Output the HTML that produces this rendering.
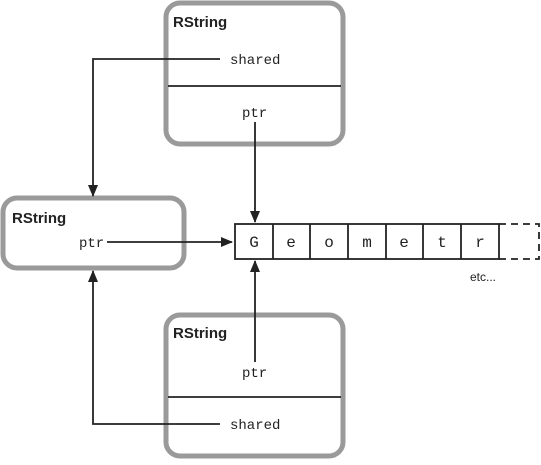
<!DOCTYPE html>
<html><head><style>body{margin:0;background:#fff}</style></head><body>
<svg width="541" height="460" xmlns="http://www.w3.org/2000/svg" font-family="Liberation Mono, monospace" font-size="14">
<defs><marker id="a" markerWidth="12" markerHeight="10" refX="11" refY="5" orient="auto" markerUnits="userSpaceOnUse"><path d="M0,0L12,5L0,10z" fill="#222"/></marker></defs>
<g fill="#fff" stroke="#9a9a9a" stroke-width="5">
<rect x="166" y="3" width="177" height="141" rx="14"/>
<rect x="3" y="198" width="181" height="70" rx="14"/>
<rect x="166" y="315" width="177" height="141" rx="14"/>
</g>
<g stroke="#222" stroke-width="1.8">
<line x1="168" y1="86" x2="341" y2="86"/>
<line x1="168" y1="397" x2="341" y2="397"/>
</g>
<g font-family="Liberation Sans, sans-serif" font-weight="bold" font-size="15" fill="#222">
<text x="173" y="27">RString</text><text x="12" y="223">RString</text><text x="173" y="338">RString</text>
</g>
<g fill="#222">
<text x="230" y="64">shared</text><text x="242" y="117">ptr</text>
<text x="79" y="247">ptr</text>
<text x="242" y="377">ptr</text><text x="230" y="429">shared</text>
</g>
<g fill="none" stroke="#222" stroke-width="1.8">
<rect x="235" y="224" width="264" height="35"/>
<path d="M273,224V259M310,224V259M348,224V259M386,224V259M423,224V259M461,224V259"/>
<path d="M499,224H539V259H499" stroke-dasharray="7,5"/>
<path d="M220,59H93V196" marker-end="url(#a)"/>
<path d="M107,242H232" marker-end="url(#a)"/>
<path d="M255,122V222" marker-end="url(#a)"/>
<path d="M255,362V261" marker-end="url(#a)"/>
<path d="M220,424H93V271" marker-end="url(#a)"/>
</g>
<g fill="#222" text-anchor="middle" font-size="16">
<text x="254" y="247">G</text><text x="291" y="247">e</text><text x="329" y="247">o</text><text x="367" y="247">m</text><text x="404" y="247">e</text><text x="442" y="247">t</text><text x="480" y="247">r</text>
</g>
<text x="470" y="281" font-family="Liberation Sans, sans-serif" font-size="12" fill="#222">etc...</text>
</svg>
</body></html>
